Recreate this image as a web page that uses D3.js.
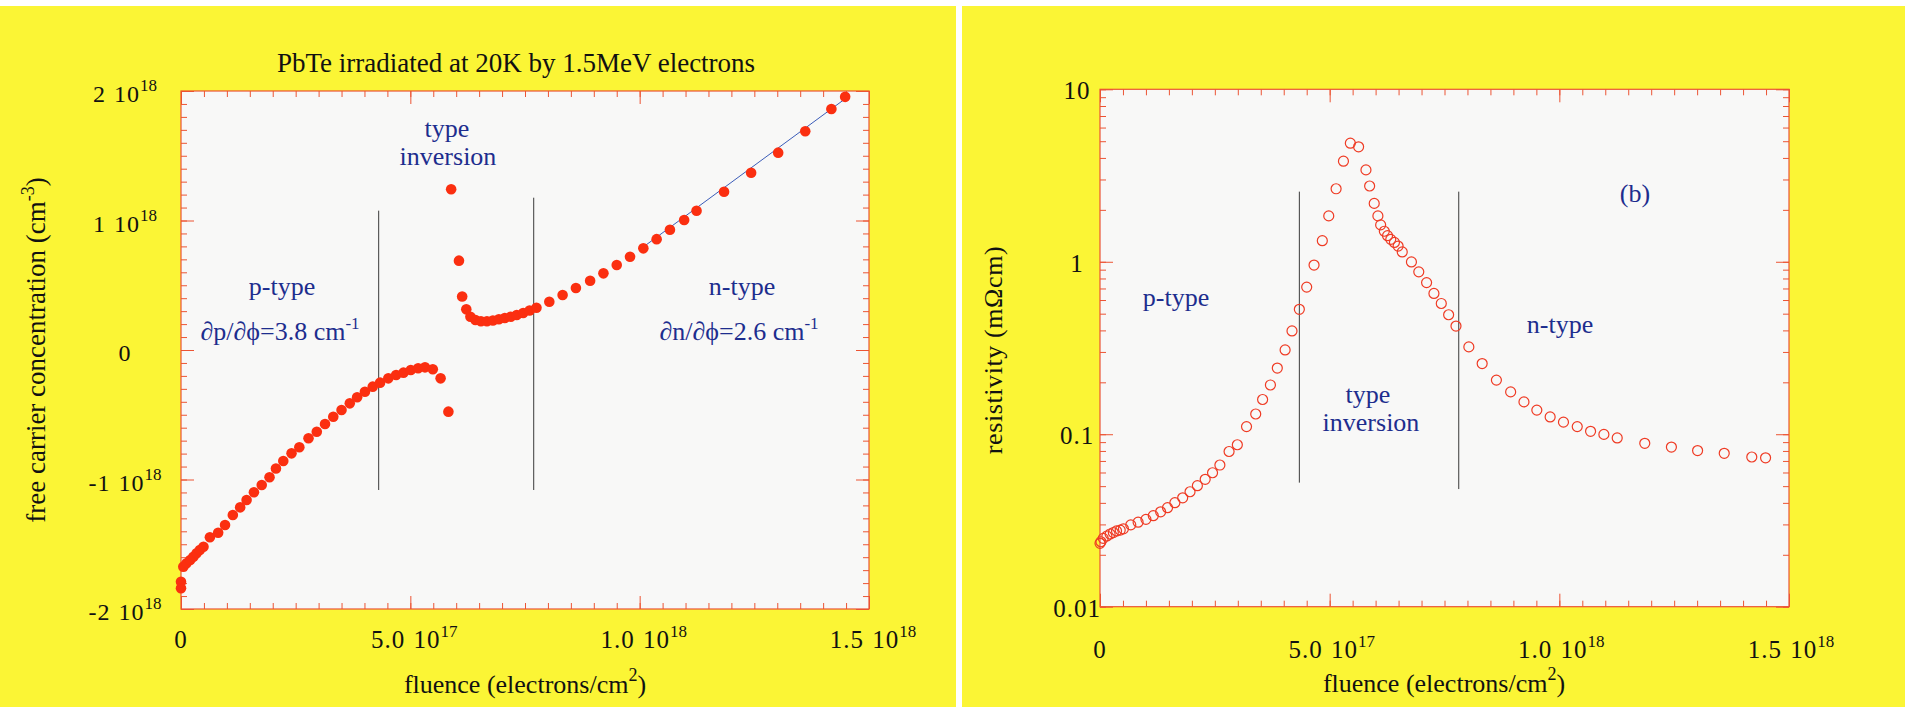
<!DOCTYPE html>
<html>
<head>
<meta charset="utf-8">
<script src="https://cdn.jsdelivr.net/npm/d3@7"></script>
<style>
  html, body { margin: 0; padding: 0; background: #ffffff; }
  svg { display: block; }
  text { font-family: "Liberation Serif", "Times New Roman", Times, serif; }
</style>
</head>
<body>
<svg id="chart" width="1905" height="707"></svg>
<script>
// ---- (a) free carrier concentration vs fluence ----
// fluence in 1e17 electrons/cm^2, concentration in 1e18 cm^-3 (negative = holes)
const pFluence = [0.00, 0.00, 0.05, 0.12, 0.20, 0.27, 0.34, 0.41, 0.49, 0.63, 0.81, 0.96, 1.13, 1.29, 1.43,
  1.59, 1.76, 1.93, 2.07, 2.23, 2.41, 2.58, 2.78, 2.96, 3.14, 3.32, 3.50, 3.68, 3.84, 4.01, 4.18, 4.34,
  4.52, 4.69, 4.85, 5.01, 5.17, 5.32, 5.49, 5.66, 5.83];
const pConc = [-1.789, -1.840, -1.673, -1.647, -1.622, -1.596, -1.570, -1.544, -1.519, -1.446, -1.411, -1.351,
  -1.274, -1.215, -1.158, -1.099, -1.042, -0.983, -0.915, -0.857, -0.798, -0.751, -0.682, -0.631, -0.571,
  -0.515, -0.463, -0.412, -0.365, -0.322, -0.283, -0.252, -0.219, -0.193, -0.175, -0.154, -0.141, -0.134,
  -0.149, -0.219, -0.476];
const nFluence = [5.89, 6.06, 6.13, 6.22, 6.31, 6.42, 6.54, 6.67, 6.80, 6.93, 7.06, 7.19, 7.32, 7.46, 7.60,
  7.75, 8.03, 8.32, 8.61, 8.92, 9.21, 9.50, 9.79, 10.08, 10.37, 10.66, 10.97, 11.24, 11.84, 12.43, 13.02,
  13.61, 14.18, 14.48];
const nConc = [1.241, 0.690, 0.413, 0.314, 0.257, 0.232, 0.222, 0.222, 0.228, 0.237, 0.247, 0.257, 0.270,
  0.286, 0.305, 0.326, 0.373, 0.425, 0.479, 0.535, 0.592, 0.656, 0.720, 0.785, 0.856, 0.929, 1.004, 1.075,
  1.222, 1.369, 1.524, 1.689, 1.861, 1.955];
// linear fit of the n-type branch (dn/dphi = 2.6 cm^-1)
const fitFluence = [10.0, 14.55];
const fitConc = [0.775, 1.958];
// region boundaries (fluence) and their vertical extent
const leftBounds = [4.31, 7.69];
const leftBoundTop = [1.076, 1.176];
const leftBoundBottom = [-1.081, -1.081];

// ---- (b) resistivity vs fluence ----
const rFluence = [0.00, 0.02, 0.07, 0.15, 0.22, 0.29, 0.36, 0.44, 0.51, 0.67, 0.83, 1.00, 1.16, 1.32, 1.47,
  1.63, 1.80, 1.96, 2.12, 2.29, 2.45, 2.61, 2.81, 2.99, 3.19, 3.39, 3.54, 3.71, 3.86, 4.03, 4.18, 4.34,
  4.50, 4.66, 4.84, 4.98, 5.14, 5.30, 5.45, 5.63, 5.79, 5.87, 5.97, 6.05, 6.11, 6.19, 6.26, 6.33, 6.41,
  6.49, 6.58, 6.78, 6.94, 7.11, 7.27, 7.43, 7.59, 7.75, 8.03, 8.32, 8.63, 8.94, 9.23, 9.51, 9.80, 10.09,
  10.39, 10.68, 10.97, 11.26, 11.86, 12.44, 13.01, 13.59, 14.19, 14.49];
const resistivity = [0.0233, 0.0238, 0.0249, 0.0257, 0.0264, 0.0269, 0.0275, 0.0278, 0.0283, 0.0298, 0.0309,
  0.0321, 0.0337, 0.0355, 0.0375, 0.0401, 0.0428, 0.0464, 0.0503, 0.0548, 0.0598, 0.0663, 0.0794, 0.0869,
  0.1107, 0.131, 0.159, 0.193, 0.242, 0.308, 0.397, 0.530, 0.713, 0.957, 1.325, 1.845, 2.65, 3.83, 4.87,
  4.64, 3.41, 2.75, 2.18, 1.845, 1.636, 1.503, 1.416, 1.349, 1.294, 1.233, 1.140, 0.998, 0.874, 0.757,
  0.655, 0.573, 0.493, 0.424, 0.321, 0.257, 0.206, 0.176, 0.154, 0.138, 0.126, 0.1175, 0.1107, 0.104,
  0.0998, 0.0952, 0.0886, 0.0843, 0.0804, 0.0775, 0.0738, 0.0730];
const rightBounds = [4.34, 7.81];
const rightBoundTop = [2.55, 2.55];
const rightBoundBottom = [0.0524, 0.0481];

// tick labels
const xTickValues = [0, 5, 10, 15];
const xTickMain = ["0", "5.0 10", "1.0 10", "1.5 10"];
const xTickSup = ["", "17", "18", "18"];
const leftYTickValues = [-2, -1, 0, 1, 2];
const leftYTickMain = ["-2 10", "-1 10", "0", "1 10", "2 10"];
const leftYTickSup = ["18", "18", "", "18", "18"];
const rightYTickValues = [0.01, 0.1, 1, 10];
const rightYTickLabels = ["0.01", "0.1", "1", "10"];

const YELLOW = "#fbf535";
const FRAME = "#ec5434";
const NAVY = "#1d2d8e";
const DOT = "#fb2f10";

const svg = d3.select("#chart");

// backgrounds: two yellow panels separated by a white strip
svg.append("rect").attr("x", 0).attr("y", 6).attr("width", 956).attr("height", 701).attr("fill", YELLOW);
svg.append("rect").attr("x", 962).attr("y", 6).attr("width", 943).attr("height", 701).attr("fill", YELLOW);

function drawFrame(x, y, xMinor, yMinor, yMajor) {
  const [x0, x1] = x.range();
  const [y0, y1] = y.range(); // y0 bottom, y1 top
  const g = svg.append("g");
  g.append("rect").attr("x", x0).attr("y", y1).attr("width", x1 - x0).attr("height", y0 - y1)
    .attr("fill", "#f8f8f7");
  const style = sel => {
    sel.select(".domain").remove();
    sel.selectAll(".tick line").attr("stroke", FRAME).attr("stroke-width", 1);
    sel.selectAll(".tick text").remove();
  };
  const axes = [
    [d3.axisBottom(x), `translate(0,${y0})`, xMinor, xTickValues],
    [d3.axisTop(x), `translate(0,${y1})`, xMinor, xTickValues],
    [d3.axisLeft(y), `translate(${x0},0)`, yMinor, yMajor],
    [d3.axisRight(y), `translate(${x1},0)`, yMinor, yMajor]
  ];
  axes.forEach(([ax, tr, minor, major]) => {
    g.append("g").attr("transform", tr)
      .call(ax.tickValues(minor).tickSizeInner(-6).tickSizeOuter(0).tickFormat(""))
      .call(style);
    g.append("g").attr("transform", tr)
      .call(ax.tickValues(major).tickSizeInner(-13).tickSizeOuter(0).tickFormat(""))
      .call(style);
  });
  g.append("rect").attr("x", x0).attr("y", y1).attr("width", x1 - x0).attr("height", y0 - y1)
    .attr("fill", "none").attr("stroke", FRAME).attr("stroke-width", 1.2);
  return g;
}

function supLabel(g, px, py, main, sup, size, supSize, rise) {
  const t = g.append("text").attr("x", px).attr("y", py).attr("text-anchor", "middle")
    .attr("font-size", size).attr("fill", "#111")
    .attr("letter-spacing", 1).attr("word-spacing", 1);
  t.append("tspan").text(main);
  if (sup) t.append("tspan").attr("dy", -rise).attr("font-size", supSize)
    .attr("letter-spacing", 0).text(sup);
  return t;
}

function annot(g, px, py, str, anchor) {
  return g.append("text").attr("x", px).attr("y", py).attr("text-anchor", anchor || "middle")
    .attr("font-size", 26).attr("fill", NAVY).text(str);
}

function fluenceTitle(px, py) {
  const t = svg.append("text").attr("x", px).attr("y", py).attr("text-anchor", "middle")
    .attr("font-size", 26).attr("fill", "#111");
  t.append("tspan").text("fluence (electrons/cm");
  t.append("tspan").attr("dy", -12).attr("font-size", 18).text("2");
  t.append("tspan").attr("dy", 12).text(")");
}

// ================= panel (a) =================
const xa = d3.scaleLinear().domain([0, 15]).range([181, 869]);
const ya = d3.scaleLinear().domain([-2, 2]).range([609, 91]);
const ga = drawFrame(xa, ya, xa.ticks(30), ya.ticks(40), leftYTickValues);

svg.append("text").attr("x", 516).attr("y", 72).attr("text-anchor", "middle")
  .attr("font-size", 27).attr("fill", "#111").text("PbTe irradiated at 20K by 1.5MeV electrons");

xTickValues.forEach((v, i) => supLabel(svg, xa(v) + (xTickSup[i] ? 4 : 0), 648, xTickMain[i], xTickSup[i], 25, 17, 11));
leftYTickValues.forEach((v, i) => supLabel(svg, 125, ya(v) + 11, leftYTickMain[i], leftYTickSup[i], 24, 17, 11));

fluenceTitle(525, 693);

const ytA = svg.append("text").attr("transform", "translate(45,350) rotate(-90)")
  .attr("text-anchor", "middle").attr("font-size", 27).attr("fill", "#111");
ytA.append("tspan").text("free carrier concentration (cm");
ytA.append("tspan").attr("dy", -11).attr("font-size", 18).text("-3");
ytA.append("tspan").attr("dy", 11).text(")");

// region boundaries
leftBounds.forEach((b, i) => {
  ga.append("line").attr("x1", xa(b)).attr("x2", xa(b))
    .attr("y1", ya(leftBoundTop[i])).attr("y2", ya(leftBoundBottom[i]))
    .attr("stroke", "#3a3a3a").attr("stroke-width", 1);
});

// fit line for the n-type branch
ga.append("line").attr("x1", xa(fitFluence[0])).attr("y1", ya(fitConc[0]))
  .attr("x2", xa(fitFluence[1])).attr("y2", ya(fitConc[1]))
  .attr("stroke", "#3b5cb8").attr("stroke-width", 1);

// measured points
const aPts = pFluence.map((f, i) => [f, pConc[i]]).concat(nFluence.map((f, i) => [f, nConc[i]]));
ga.append("g").selectAll("circle").data(aPts).join("circle")
  .attr("cx", d => xa(d[0])).attr("cy", d => ya(d[1])).attr("r", 5.3).attr("fill", DOT);

// annotations
annot(ga, 447, 137, "type");
annot(ga, 448, 165, "inversion");
annot(ga, 282, 295, "p-type");
const fa = annot(ga, 280, 340, "∂p/∂ϕ=3.8 cm");
fa.append("tspan").attr("dy", -11).attr("font-size", 17).text("-1");
annot(ga, 742, 295, "n-type");
const fb = annot(ga, 739, 340, "∂n/∂ϕ=2.6 cm");
fb.append("tspan").attr("dy", -11).attr("font-size", 17).text("-1");

// ================= panel (b) =================
const xb = d3.scaleLinear().domain([0, 15]).range([1100, 1789]);
const yb = d3.scaleLog().domain([0.01, 10]).range([606.7, 89.3]);
const gb = drawFrame(xb, yb, xb.ticks(30), yb.ticks(), rightYTickValues);

xTickValues.forEach((v, i) => supLabel(svg, xb(v) + (xTickSup[i] ? 2 : 0), 658, xTickMain[i], xTickSup[i], 25, 17, 11));
rightYTickValues.forEach((v, i) => supLabel(svg, 1077, yb(v) + 10, rightYTickLabels[i], "", 25, 17, 0));

fluenceTitle(1444, 692);

svg.append("text").attr("transform", "translate(1002,350) rotate(-90)")
  .attr("text-anchor", "middle").attr("font-size", 26).attr("fill", "#111")
  .attr("letter-spacing", 0.6).text("resistivity (mΩcm)");

rightBounds.forEach((b, i) => {
  gb.append("line").attr("x1", xb(b)).attr("x2", xb(b))
    .attr("y1", yb(rightBoundTop[i])).attr("y2", yb(rightBoundBottom[i]))
    .attr("stroke", "#3a3a3a").attr("stroke-width", 1);
});

gb.append("g").selectAll("circle").data(rFluence.map((f, i) => [f, resistivity[i]])).join("circle")
  .attr("cx", d => xb(d[0])).attr("cy", d => yb(d[1])).attr("r", 5)
  .attr("fill", "none").attr("stroke", "#ef3b24").attr("stroke-width", 1.2);

annot(gb, 1635, 202, "(b)");
annot(gb, 1176, 306, "p-type");
annot(gb, 1560, 333, "n-type");
annot(gb, 1368, 403, "type");
annot(gb, 1371, 431, "inversion");
</script>
</body>
</html>
